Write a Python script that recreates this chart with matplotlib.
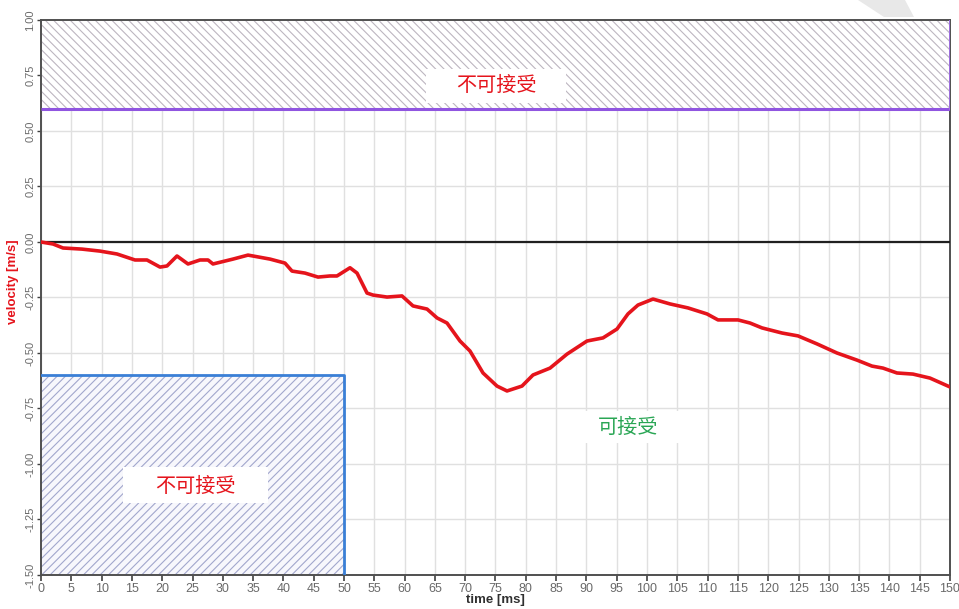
import matplotlib
matplotlib.use("Agg")
import matplotlib.pyplot as plt
from matplotlib.patches import Rectangle, Polygon

plt.rcParams['font.family'] = ['Liberation Sans', 'Noto Sans CJK SC', 'DejaVu Sans']
plt.rcParams['hatch.linewidth'] = 0.8

# velocity trace
time_ms = [0, 1.98, 3.63, 6.77, 9.74, 12.54, 15.51, 17.49, 19.64, 20.79, 22.44,
           24.26, 26.24, 27.56, 28.38, 31.68, 34.16, 37.79, 40.26, 41.42, 43.56,
           45.71, 47.69, 48.84, 50.99, 52.15, 53.80, 54.79, 57.10, 59.57, 61.39,
           63.70, 65.35, 67.00, 69.14, 70.79, 72.94, 75.25, 76.90, 79.37, 81.19,
           84.0, 86.80, 90.10, 92.74, 95.05, 96.86, 98.51, 100.99, 103.80, 106.77,
           109.90, 111.72, 115.02, 117.0, 118.98, 122.28, 124.92, 128.05, 131.35,
           134.65, 137.13, 138.94, 141.25, 143.89, 146.70, 150.0]
velocity = [0.0, -0.009, -0.027, -0.032, -0.041, -0.054, -0.081, -0.081, -0.113,
            -0.108, -0.063, -0.099, -0.081, -0.081, -0.099, -0.077, -0.059, -0.077,
            -0.095, -0.131, -0.140, -0.158, -0.153, -0.153, -0.116, -0.140, -0.230,
            -0.239, -0.248, -0.243, -0.288, -0.302, -0.342, -0.365, -0.446, -0.491,
            -0.590, -0.649, -0.671, -0.649, -0.599, -0.568, -0.505, -0.446, -0.432,
            -0.392, -0.324, -0.284, -0.257, -0.279, -0.297, -0.324, -0.351, -0.351,
            -0.365, -0.387, -0.410, -0.423, -0.459, -0.500, -0.532, -0.559, -0.568,
            -0.590, -0.595, -0.613, -0.653]

x_ticks = list(range(0, 151, 5))
y_ticks = [-1.50, -1.25, -1.00, -0.75, -0.50, -0.25, 0.00, 0.25, 0.50, 0.75, 1.00]

# limit zones
upper_limit = 0.6
lower_limit = -0.6
lower_zone_end = 50

label_bad = "不可接受"
label_ok = "可接受"

fig = plt.figure(figsize=(9.59, 6.09), dpi=100)
ax = fig.add_axes([41 / 959, 1 - 575 / 609, 909 / 959, 555 / 609])
ax.set_xlim(0, 150)
ax.set_ylim(-1.5, 1.0)

ax.set_xticks(x_ticks)
ax.set_yticks(y_ticks)
ax.set_xticklabels([str(t) for t in x_ticks], fontsize=9, color='#6a6a6a')
ax.set_yticklabels([f"{v:.2f}" for v in y_ticks], fontsize=8, color='#6a6a6a',
                   rotation=90, va='center')
ax.tick_params(axis='x', length=4, width=1.2, color='#404040', pad=1.5)
ax.tick_params(axis='y', length=3, width=1.0, color='#404040', pad=1)
ax.grid(True, color='#e0e0e0', linewidth=1.0, zorder=0)
ax.set_axisbelow(True)

for side in ['left', 'bottom', 'top', 'right']:
    ax.spines[side].set_color('#505050')
    ax.spines[side].set_linewidth(1.4)

# unacceptable zone above
ax.add_patch(Rectangle((0, upper_limit), 150, 1.0 - upper_limit, facecolor='white',
                       edgecolor='#bdb6c0', hatch='\\\\\\\\', linewidth=0, zorder=1))
ax.plot([0, 150], [upper_limit, upper_limit], color='#9055e0', lw=2.2, zorder=4,
        solid_capstyle='butt')
ax.plot([150, 150], [upper_limit, 1.0], color='#a070e0', lw=1.4, zorder=4)

# unacceptable zone below
ax.add_patch(Rectangle((0, -1.5), lower_zone_end, lower_limit + 1.5, facecolor='#f7f7fc',
                       edgecolor='#a2a7cc', hatch='////', linewidth=0, zorder=1))
ax.plot([0, lower_zone_end, lower_zone_end], [lower_limit, lower_limit, -1.5],
        color='#3a7fd6', lw=2.0, zorder=4)

# zero line
ax.axhline(0, color='#202020', lw=1.6, zorder=3)

# velocity curve
ax.plot(time_ms, velocity, color='#e5141c', lw=2.6, zorder=5,
        solid_joinstyle='round', solid_capstyle='round')

# text labels on white panels
ax.add_patch(Rectangle((63.6, 0.624), 23.0, 0.157, facecolor='white', edgecolor='none', zorder=2))
ax.text(75.2, 0.705, label_bad, color='#e5141c', fontsize=14.5, ha='center', va='center',
        family=['Noto Sans CJK SC'], zorder=6)

ax.add_patch(Rectangle((13.5, -1.175), 24.0, 0.16, facecolor='white', edgecolor='none', zorder=2))
ax.text(25.4, -1.10, label_bad, color='#e5141c', fontsize=14.5, ha='center', va='center',
        family=['Noto Sans CJK SC'], zorder=6)

ax.add_patch(Rectangle((87.3, -0.905), 19.0, 0.145, facecolor='white', edgecolor='none', zorder=2))
ax.text(96.9, -0.833, label_ok, color='#2aa655', fontsize=14.5, ha='center', va='center',
        family=['Noto Sans CJK SC'], zorder=6)

ax.set_xlabel("time [ms]", fontsize=9.5, fontweight='bold', color='#303030')
ax.xaxis.set_label_coords(0.5, -0.034)
ax.set_ylabel("velocity [m/s]", fontsize=9.5, fontweight='bold', color='#e5141c')
ax.yaxis.set_label_coords(-0.024, 0.528)

# light grey corner mark at the top edge
fig.patches.append(Polygon([[858 / 959, 1.0], [905 / 959, 1.0], [914 / 959, 1 - 17 / 609],
                            [884 / 959, 1 - 17 / 609]], closed=True,
                           transform=fig.transFigure, facecolor='#e8e8e8',
                           edgecolor='none', zorder=0))

fig.savefig("out.png", dpi=100, facecolor='white')
